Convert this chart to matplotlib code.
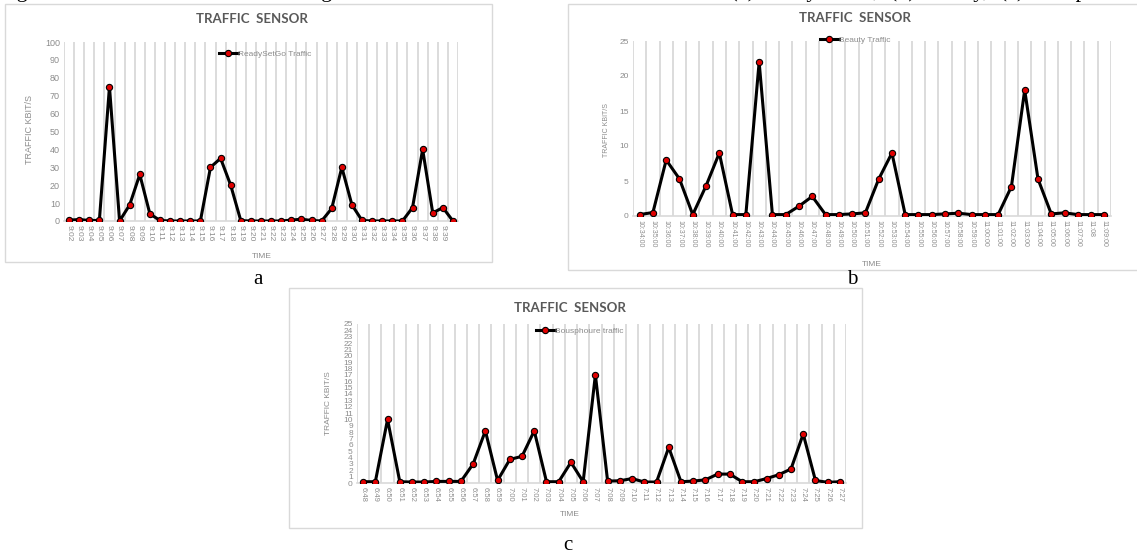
import matplotlib.pyplot as plt
from matplotlib.patches import Rectangle

# traffic logged by the sensor for the three apps
times_a = ['9:02', '9:03', '9:04', '9:05', '9:06', '9:07', '9:08', '9:09', '9:10', '9:11',
           '9:12', '9:13', '9:14', '9:15', '9:16', '9:17', '9:18', '9:19', '9:20', '9:21',
           '9:22', '9:23', '9:24', '9:25', '9:26', '9:27', '9:28', '9:29', '9:30', '9:31',
           '9:32', '9:33', '9:34', '9:35', '9:36', '9:37', '9:38', '9:39', '']
traffic_a = [0.5, 0.8, 0.3, 0.3, 75, 0, 9, 26, 4, 0.3,
             0, 0, 0, 0, 30, 35, 20, 0.2, 0, 0,
             0, 0, 0.5, 1, 0.3, 0, 7, 30, 9, 0.3,
             0, 0, 0, 0, 7.5, 40, 4.5, 7.5, 0]

times_b = ['10:34:00', '10:35:00', '10:36:00', '10:37:00', '10:38:00', '10:39:00',
           '10:40:00', '10:41:00', '10:42:00', '10:43:00', '10:44:00', '10:45:00',
           '10:46:00', '10:47:00', '10:48:00', '10:49:00', '10:50:00', '10:51:00',
           '10:52:00', '10:53:00', '10:54:00', '10:55:00', '10:56:00', '10:57:00',
           '10:58:00', '10:59:00', '11:00:00', '11:01:00', '11:02:00', '11:03:00',
           '11:04:00', '11:05:00', '11:06:00', '11:07:00', '11:08', '11:09:00']
traffic_b = [0.2, 0.5, 8.0, 5.3, 0.2, 4.3, 9.0, 0.2, 0.2, 22,
             0.2, 0.2, 1.4, 2.8, 0.2, 0.2, 0.3, 0.45, 5.25, 9.0,
             0.2, 0.2, 0.2, 0.3, 0.4, 0.2, 0.2, 0.2, 4.2, 18,
             5.3, 0.3, 0.45, 0.2, 0.2, 0.2]

times_c = ['6:48', '6:49', '6:50', '6:51', '6:52', '6:53', '6:54', '6:55', '6:56', '6:57',
           '6:58', '6:59', '7:00', '7:01', '7:02', '7:03', '7:04', '7:05', '7:06', '7:07',
           '7:08', '7:09', '7:10', '7:11', '7:12', '7:13', '7:14', '7:15', '7:16', '7:17',
           '7:18', '7:19', '7:20', '7:21', '7:22', '7:23', '7:24', '7:25', '7:26', '7:27']
traffic_c = [0.2, 0.2, 10, 0.2, 0.15, 0.15, 0.25, 0.25, 0.25, 3.0,
             8.2, 0.4, 3.7, 4.2, 8.2, 0.2, 0.2, 3.25, 0.2, 17,
             0.3, 0.35, 0.7, 0.15, 0.15, 5.6, 0.2, 0.3, 0.5, 1.4,
             1.4, 0.2, 0.2, 0.7, 1.3, 2.2, 7.7, 0.4, 0.1, 0.2]

W, H = 1137, 554
fig = plt.figure(figsize=(W / 100, H / 100), dpi=100)
fig.patch.set_facecolor('white')

GRID = '#d9d9d9'
TXT = '#8c8c8c'


def rect(x0, y0, x1, y1):
    # pixel box (top-left origin) -> figure fraction
    return [x0 / W, 1 - y1 / H, (x1 - x0) / W, (y1 - y0) / H]


def frame(x0, y0, x1, y1):
    fig.add_artist(Rectangle((x0 / W, 1 - y1 / H), (x1 - x0) / W, (y1 - y0) / H,
                             transform=fig.transFigure, fill=False,
                             edgecolor=GRID, linewidth=1.0))


def panel(box, times, values, ymax, ystep, name, ylab_font, xt_size, yt_size,
          title_xy, leg_xy, ylab_xy, time_xy, letter, letter_xy):
    ax = fig.add_axes(rect(*box))
    n = len(times)
    x = list(range(n))
    ax.plot(x, values, color='black', linewidth=2.2, marker='o', markersize=4.5,
            markerfacecolor='#e00000', markeredgecolor='black', markeredgewidth=0.8,
            label=name, zorder=3)
    ax.set_xlim(-0.5, n - 0.5)
    ax.set_ylim(0, ymax)
    ax.set_xticks(x)
    ax.set_xticklabels(times, rotation=-90, fontsize=xt_size, color=TXT,
                       family='Liberation Sans')
    ax.set_xticks([i - 0.5 for i in range(n + 1)], minor=True)
    ax.set_yticks(range(0, ymax + 1, ystep))
    ax.set_yticklabels([str(v) for v in range(0, ymax + 1, ystep)], fontsize=yt_size,
                       color=TXT, family='Liberation Sans')
    ax.tick_params(which='both', length=0, pad=3)
    ax.grid(which='minor', axis='x', color=GRID, linewidth=1.3)
    for s in ['top', 'right', 'left']:
        ax.spines[s].set_visible(False)
    ax.spines['bottom'].set_color(GRID)
    ax.spines['bottom'].set_linewidth(1.2)

    fig.text(title_xy[0] / W, 1 - title_xy[1] / H, 'TRAFFIC  SENSOR',
             ha='center', va='center', fontsize=9.5, fontweight='bold',
             color='#595959', family='Lato')
    ax.legend(loc='center left', bbox_to_anchor=(leg_xy[0] / W, 1 - leg_xy[1] / H),
              bbox_transform=fig.transFigure, frameon=False,
              labelcolor=TXT, handlelength=2.2, handletextpad=0.1,
              borderpad=0, prop={'family': 'Liberation Sans', 'size': 6})
    fig.text(ylab_xy[0] / W, 1 - ylab_xy[1] / H, 'TRAFFIC KBIT/S', rotation=90,
             ha='center', va='center', fontsize=ylab_font, color=TXT,
             family='Liberation Sans')
    fig.text(time_xy[0] / W, 1 - time_xy[1] / H, 'TIME', ha='center', va='center',
             fontsize=6, color=TXT, family='Liberation Sans')
    fig.text(letter_xy[0] / W, 1 - letter_xy[1] / H, letter, ha='center', va='center',
             fontsize=15, color='black', family='Liberation Serif')
    return ax


# panel frames
frame(5, 4, 492, 262)
frame(568, 4, 1160, 270)
frame(289, 288, 862, 528)

panel((64, 42, 458, 221), times_a, traffic_a, 100, 10, 'ReadySetGo Traffic', 6.5, 6, 6.5,
      (252, 19), (215, 54), (30, 130), (262, 256), 'a', (258, 280))
panel((633, 41, 1111, 216), times_b, traffic_b, 25, 5, 'Beauty Traffic', 5, 5, 6,
      (855, 18), (816, 40), (607, 130), (872, 265), 'b', (852, 280))
panel((357, 324, 846, 483), times_c, traffic_c, 25, 1, 'Bousphoure traffic', 6, 5.5, 6,
      (570, 308), (532, 331), (328, 403), (570, 514), 'c', (568, 546))

# figure caption running above the panels, only its lowest strokes fall inside
fig.text(-2 / W, 1 + 3 / H,
         'Figure 8. The traffic measured during the test sessions of the three mobile health   '
         '(a) ReadySetGo,  (b) Beauty,  (c) Bousphoure',
         ha='left', va='baseline', fontsize=16, family='Liberation Serif')

fig.savefig('out.png', dpi=100)
